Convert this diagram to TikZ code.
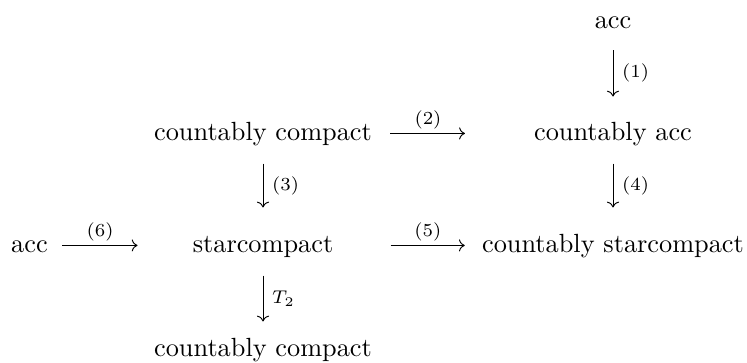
\documentclass[tikz,border=0pt]{standalone}
\usetikzlibrary{arrows.meta}
\begin{document}
\begin{tikzpicture}[x=0.3802pt,y=-0.3802pt,
  obj/.style={anchor=base, inner sep=0pt, text height=6.94pt, text depth=1.94pt},
  cdarr/.style={-{Computer Modern Rightarrow[length=2.2pt,width=4.6pt]}, line width=0.36pt},
  vlbl/.style={right, inner sep=0pt, xshift=3.3pt},
  hlbl/.style={above, inner sep=0pt, yshift=1.4pt}]
\useasboundingbox (0,0) rectangle (747,362);
\node[obj] (acc1) at (613,28) {acc};
\node[obj] (cacc) at (613,140) {countably acc};
\node[obj] (ccomp) at (263,140) {countably compact};
\node[obj] (acc2) at (29.5,252) {acc};
\node[obj] (star) at (263,252) {starcompact};
\node[obj] (cstar) at (613,252) {countably starcompact};
\node[obj] (ccomp2) at (263,356) {countably compact};
% vertical arrows
\draw[cdarr, shorten <=6.4pt, shorten >=9.4pt] (acc1) -- node[vlbl, pos=0.45]{$\scriptstyle(1)$} (cacc);
\draw[cdarr, shorten <=6.8pt, shorten >=9.8pt] (cacc) -- node[vlbl, pos=0.456]{$\scriptstyle(4)$} (cstar);
\draw[cdarr, shorten <=6.8pt, shorten >=9.8pt] (ccomp) -- node[vlbl, pos=0.456]{$\scriptstyle(3)$} (star);
\draw[cdarr, shorten <=6.8pt, shorten >=6.0pt] (star) -- node[vlbl, pos=0.52]{$\scriptstyle T_2$} (ccomp2);
% horizontal arrows
\draw[cdarr, shorten <=6.75pt, shorten >=26.1pt] (ccomp) -- node[hlbl, pos=0.345]{$\scriptstyle(2)$} (cacc);
\draw[cdarr, shorten <=21.6pt, shorten >=6.4pt] (star) -- node[hlbl, pos=0.636]{$\scriptstyle(5)$} (cstar);
\draw[cdarr, shorten <=5.4pt, shorten >=20.8pt] (acc2) -- node[hlbl, pos=0.36]{$\scriptstyle(6)$} (star);
\end{tikzpicture}
\end{document}
